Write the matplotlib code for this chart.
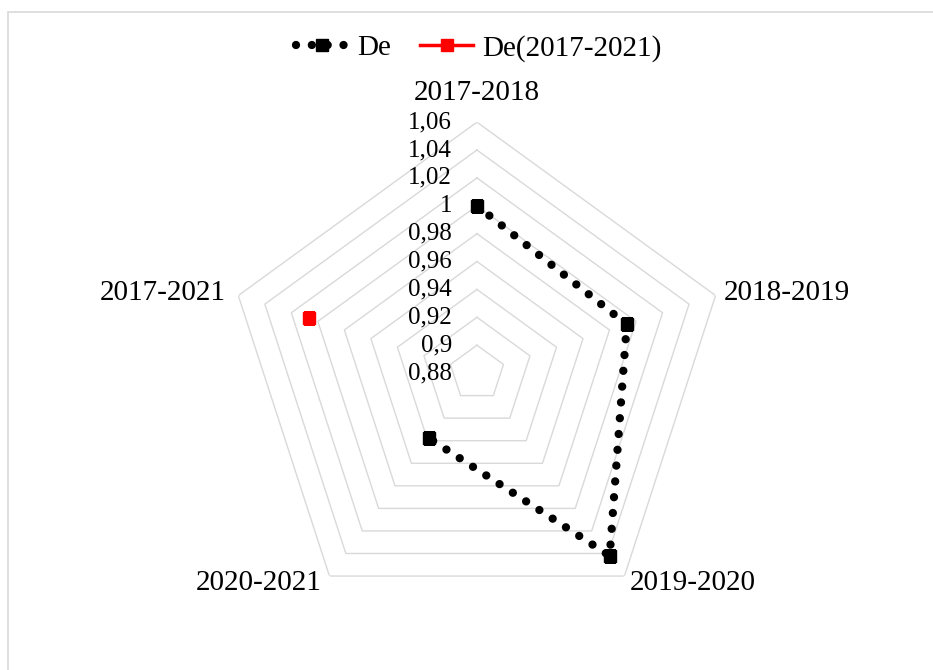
import numpy as np
import matplotlib
matplotlib.use("Agg")
import matplotlib.pyplot as plt
from matplotlib.lines import Line2D
from matplotlib.patches import Rectangle

categories = ["2017-2018", "2018-2019", "2019-2020", "2020-2021", "2017-2021"]
de_values = [1.00, 0.993, 1.042, 0.938, np.nan]
de_total_values = [np.nan, np.nan, np.nan, np.nan, 1.007]
ring_values = [0.88, 0.90, 0.92, 0.94, 0.96, 0.98, 1.00, 1.02, 1.04, 1.06]
tick_labels = ["0,88", "0,9", "0,92", "0,94", "0,96", "0,98", "1", "1,02", "1,04", "1,06"]

plt.rcParams['font.family'] = ['Liberation Serif', 'DejaVu Serif']

fig = plt.figure(figsize=(9.33, 6.70), dpi=100)
fig.patches.append(Rectangle((8/933, -0.1), 1.2, (670-12)/670 + 0.1, transform=fig.transFigure,
                             fill=False, edgecolor='#d9d9d9', linewidth=1.2))

ax = fig.add_axes([0.2422, 0.0687, 0.538, 0.749], projection='polar')
ax.set_theta_zero_location('N')
ax.set_theta_direction(-1)
ax.set_ylim(0.88, 1.06)
ax.grid(False)
ax.spines['polar'].set_visible(False)
ax.set_xticks([])
ax.set_yticks([])
ax.patch.set_alpha(0)

n = len(categories)
angles = np.arange(n) * 2 * np.pi / n
closed = np.append(angles, angles[0])

for rv in ring_values[1:]:
    ax.plot(closed, [rv] * (n + 1), color='#d9d9d9', linewidth=1.0, zorder=1)

for rv, lab in zip(ring_values, tick_labels):
    ax.annotate(lab, xy=(0, rv), xytext=(-18, 0), textcoords='offset points',
                ha='right', va='center', fontsize=18, color='#000000')

dot_style = (0, (0.001, 1.9))
ax.plot(angles, de_values, color='black', linewidth=6, linestyle=dot_style,
        dash_capstyle='round', marker='s', markersize=8, zorder=3)
ax.plot(angles, de_total_values, color='#ff0000', linewidth=2.5, marker='s',
        markersize=8, zorder=3)

label_offsets = [((0, 21), 'center', 'center'),
                 ((6, 2), 'left', 'center'),
                 ((4, -5), 'left', 'center'),
                 ((-6, -5), 'right', 'center'),
                 ((-9, 2), 'right', 'center')]
for ang, cat, (off, ha, va) in zip(angles, categories, label_offsets):
    ax.annotate(cat, xy=(ang, 1.06), xytext=off, textcoords='offset points',
                ha=ha, va=va, fontsize=21, color='#000000')

handles = [Line2D([], [], color='black', linewidth=6, linestyle=dot_style,
                  dash_capstyle='round', marker='s', markersize=8),
           Line2D([], [], color='#ff0000', linewidth=2.5, marker='s', markersize=8)]
fig.legend(handles, ["De", "De(2017-2021)"], loc='center', bbox_to_anchor=(0.513, 0.928),
           ncol=2, frameon=False, fontsize=21, handlelength=1.8, handletextpad=0.3,
           columnspacing=1.0)

fig.savefig("out.png", dpi=100)
